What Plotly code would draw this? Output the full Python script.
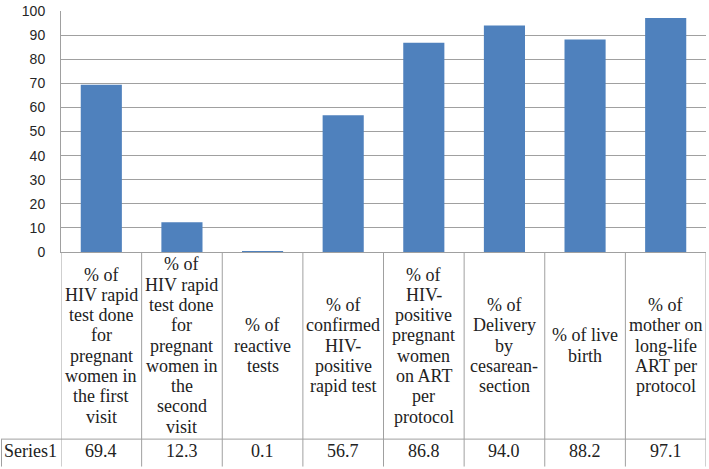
import plotly.graph_objects as go

categories = [
    "% of<br>HIV rapid<br>test done<br>for<br>pregnant<br>women in<br>the first<br>visit",
    "% of<br>HIV rapid<br>test done<br>for<br>pregnant<br>women in<br>the<br>second<br>visit",
    "% of<br>reactive<br>tests",
    "% of<br>confirmed<br>HIV-<br>positive<br>rapid test",
    "% of<br>HIV-<br>positive<br>pregnant<br>women<br>on ART<br>per<br>protocol",
    "% of<br>Delivery<br>by<br>cesarean-<br>section",
    "% of live<br>birth",
    "% of<br>mother on<br>long-life<br>ART per<br>protocol",
]
series_name = "Series1"
values = [69.4, 12.3, 0.1, 56.7, 86.8, 94.0, 88.2, 97.1]
y_ticks = [0, 10, 20, 30, 40, 50, 60, 70, 80, 90, 100]

W, H = 709, 469
top, plot_bottom = 6, 252
left, right = 61, 706
row_top = 443
plot_h = plot_bottom - top
line_h = 20.7

def py(p):
    return (plot_bottom - p) / plot_h

xs = list(range(len(categories)))
fig = go.Figure(go.Bar(x=xs, y=values, marker=dict(color="#4F81BD", line=dict(width=0)),
                       width=0.51, name=series_name))

line_col = "#A0A0A0"
serif = "Liberation Serif"
txt_col = "#222222"
fs = 18
shapes = []
for i in range(len(categories) + 1):
    shapes.append(dict(type="line", xref="x", yref="paper", x0=i - 0.5, x1=i - 0.5,
                       y0=0, y1=py(H + 2), line=dict(color=line_col, width=1)))
shapes.append(dict(type="line", xref="paper", yref="paper", x0=(1 - left) / (right - left), x1=1,
                   y0=py(row_top), y1=py(row_top), line=dict(color=line_col, width=1)))
shapes.append(dict(type="line", xref="paper", yref="paper", x0=(1.5 - left) / (right - left),
                   x1=(1.5 - left) / (right - left), y0=py(row_top), y1=py(H + 2),
                   line=dict(color=line_col, width=1)))

annotations = []
cell_mid = (plot_bottom + row_top) / 2
for i, (c, v) in enumerate(zip(categories, values)):
    lines = c.split("<br>")
    n = len(lines)
    for k, ln in enumerate(lines):
        yc = cell_mid + (k - (n - 1) / 2) * line_h
        annotations.append(dict(x=i, y=py(yc), xref="x", yref="paper",
                                text=ln, showarrow=False, xanchor="center", yanchor="middle",
                                font=dict(family=serif, size=fs, color=txt_col)))
    annotations.append(dict(x=i, y=py((row_top + H) / 2 - 1), xref="x", yref="paper",
                            text=f"{v:.1f}", showarrow=False, xanchor="center", yanchor="middle",
                            font=dict(family=serif, size=fs, color=txt_col)))
annotations.append(dict(x=(30 - left) / (right - left), y=py((row_top + H) / 2 - 1), xref="paper",
                        yref="paper", text=series_name, showarrow=False, xanchor="center",
                        yanchor="middle", font=dict(family=serif, size=fs, color=txt_col)))

fig.update_layout(
    width=W, height=H,
    margin=dict(l=left, r=W - right, t=top, b=H - plot_bottom, pad=0),
    paper_bgcolor="white", plot_bgcolor="white",
    showlegend=False,
    shapes=shapes, annotations=annotations,
    xaxis=dict(range=[-0.5, len(categories) - 0.5], showticklabels=False, showgrid=False,
               zeroline=False, showline=True, linecolor=line_col, linewidth=1, ticks=""),
    yaxis=dict(range=[0, 100], tickvals=y_ticks, showgrid=True, gridcolor=line_col, gridwidth=1,
               zeroline=False, showline=True, linecolor=line_col, linewidth=1,
               ticks="outside", ticklen=0, ticklabelstandoff=12, ticklabeloverflow="allow",
               tickfont=dict(family="Liberation Sans", size=14, color="#262626")),
)
fig.write_html("out.html", config={"displayModeBar": False},
               post_script="document.body.style.margin='0';document.body.style.overflow='hidden';")
